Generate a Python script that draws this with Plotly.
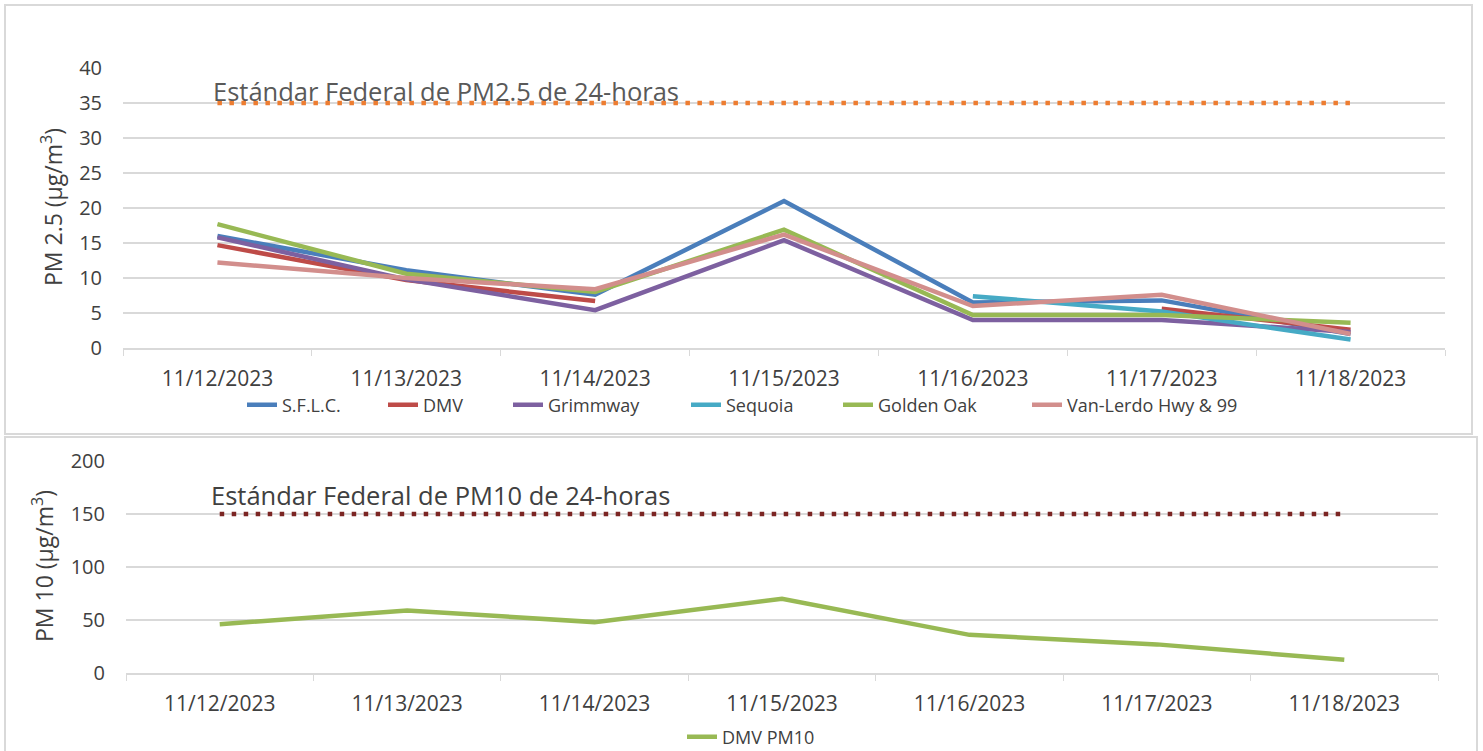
import plotly.graph_objects as go

dates = ["11/12/2023", "11/13/2023", "11/14/2023", "11/15/2023", "11/16/2023", "11/17/2023", "11/18/2023"]

sflc = [16.0, 11.1, 7.6, 21.0, 6.5, 6.8, 2.0]
dmv = [14.7, 9.7, 6.7, None, None, 5.6, 2.6]
grimmway = [15.8, 9.8, 5.4, 15.4, 4.0, 4.0, 2.3]
sequoia = [None, None, None, None, 7.4, 5.2, 1.2]
golden_oak = [17.7, 10.6, 8.0, 16.9, 4.7, 4.7, 3.6]
van_lerdo = [12.2, 10.0, 8.4, 16.2, 6.0, 7.6, 2.0]
std_pm25 = [35, 35, 35, 35, 35, 35, 35]

dmv_pm10 = [46, 59, 48, 70, 36, 27, 12.5]
std_pm10 = [150, 150, 150, 150, 150, 150, 150]

series_names = ["S.F.L.C.", "DMV", "Grimmway", "Sequoia", "Golden Oak", "Van-Lerdo Hwy & 99"]
series_values = [sflc, dmv, grimmway, sequoia, golden_oak, van_lerdo]
series_colors = ["#4A7EBB", "#BE4B48", "#7D60A0", "#46AAC5", "#98B954", "#D28E8C"]
# left pixel position of each legend entry (as in the original layout)
legend_left = [228, 369, 494, 672, 824, 1013]

W, H = 1483, 751
def px(x):
    return x / W
def py(y):
    return 1 - y / H

FONT = "Open Sans, Lato, sans-serif"
GRAY = "#595959"
DARK = "#404040"
GRID = "#d9d9d9"

fig = go.Figure()

fig.add_trace(go.Scatter(x=dates, y=std_pm25, mode="lines", showlegend=False,
                         line=dict(color="#ED7D31", width=4.5, dash="4.5px,7.5px"),
                         xaxis="x", yaxis="y", hoverinfo="skip"))
legend_layouts = {}
for i, (name, vals, col) in enumerate(zip(series_names, series_values, series_colors)):
    lg = "legend" if i == 0 else f"legend{i + 1}"
    fig.add_trace(go.Scatter(x=dates, y=vals, name=name, mode="lines",
                             line=dict(color=col, width=4.5), connectgaps=False,
                             xaxis="x", yaxis="y", legend=lg))
    legend_layouts[lg] = dict(orientation="h", x=px(legend_left[i] + 14), y=py(405),
                              xanchor="left", yanchor="middle",
                              font=dict(family=FONT, size=18, color=DARK),
                              bgcolor="rgba(0,0,0,0)")

fig.add_trace(go.Scatter(x=dates, y=std_pm10, mode="lines", showlegend=False,
                         line=dict(color="#7B2523", width=4.5, dash="4.5px,7.5px"),
                         xaxis="x2", yaxis="y2", hoverinfo="skip"))
fig.add_trace(go.Scatter(x=dates, y=dmv_pm10, name="DMV PM10", mode="lines",
                         line=dict(color="#98B954", width=4.5),
                         xaxis="x2", yaxis="y2", legend="legend7"))
legend_layouts["legend7"] = dict(orientation="h", x=px(668 + 14), y=py(737),
                                 xanchor="left", yanchor="middle",
                                 font=dict(family=FONT, size=18, color=DARK),
                                 bgcolor="rgba(0,0,0,0)")

xcommon = dict(type="category", range=[-0.5, 6.5], tickson="boundaries", ticks="outside",
               ticklen=6, tickcolor=GRID, showline=True, linecolor=GRID, linewidth=2,
               showgrid=False, tickfont=dict(family=FONT, size=21, color=DARK),
               ticklabelstandoff=11, automargin=False)
ycommon = dict(showgrid=True, gridcolor=GRID, gridwidth=1.5, zeroline=False, showline=False,
               tickfont=dict(family=FONT, size=20, color=DARK), ticks="",
               ticklabelstandoff=20, automargin=False)

fig.update_layout(
    width=W, height=H,
    margin=dict(l=0, r=0, t=0, b=0, autoexpand=False),
    paper_bgcolor="white", plot_bgcolor="white",
    xaxis=dict(domain=[px(123), px(1445)], anchor="y", **xcommon),
    yaxis=dict(domain=[py(348), py(68)], range=[0, 40], dtick=5, anchor="x", **ycommon),
    xaxis2=dict(domain=[px(126), px(1438)], anchor="y2", **xcommon),
    yaxis2=dict(domain=[py(673), py(461)], range=[0, 200], dtick=50, anchor="x2", **ycommon),
    showlegend=True,
    shapes=[
        dict(type="rect", xref="paper", yref="paper", x0=px(5), x1=px(1472), y0=py(434), y1=py(5),
             line=dict(color=GRID, width=2), layer="below"),
        dict(type="rect", xref="paper", yref="paper", x0=px(5), x1=px(1477), y0=py(760), y1=py(437),
             line=dict(color=GRID, width=2), layer="below"),
    ],
    annotations=[
        dict(text="Estándar Federal de PM2.5 de 24-horas", xref="paper", yref="paper",
             x=px(211), y=py(91), xanchor="left", yanchor="middle", showarrow=False,
             font=dict(family=FONT, size=25.5, color=GRAY)),
        dict(text="Estándar Federal de PM10 de 24-horas", xref="paper", yref="paper",
             x=px(209), y=py(495), xanchor="left", yanchor="middle", showarrow=False,
             font=dict(family=FONT, size=25.5, color=DARK)),
        dict(text="PM 2.5 (µg/m<sup>3</sup>)", xref="paper", yref="paper",
             x=px(52), y=py(207), xanchor="center", yanchor="middle", showarrow=False,
             textangle=-90, font=dict(family=FONT, size=23, color=DARK)),
        dict(text="PM 10 (µg/m<sup>3</sup>)", xref="paper", yref="paper",
             x=px(43), y=py(566), xanchor="center", yanchor="middle", showarrow=False,
             textangle=-90, font=dict(family=FONT, size=23, color=DARK)),
    ],
)
fig.update_layout(**legend_layouts)

fig.write_html("out.html", post_script="document.body.style.margin='0';",
               config={"displayModeBar": False})
